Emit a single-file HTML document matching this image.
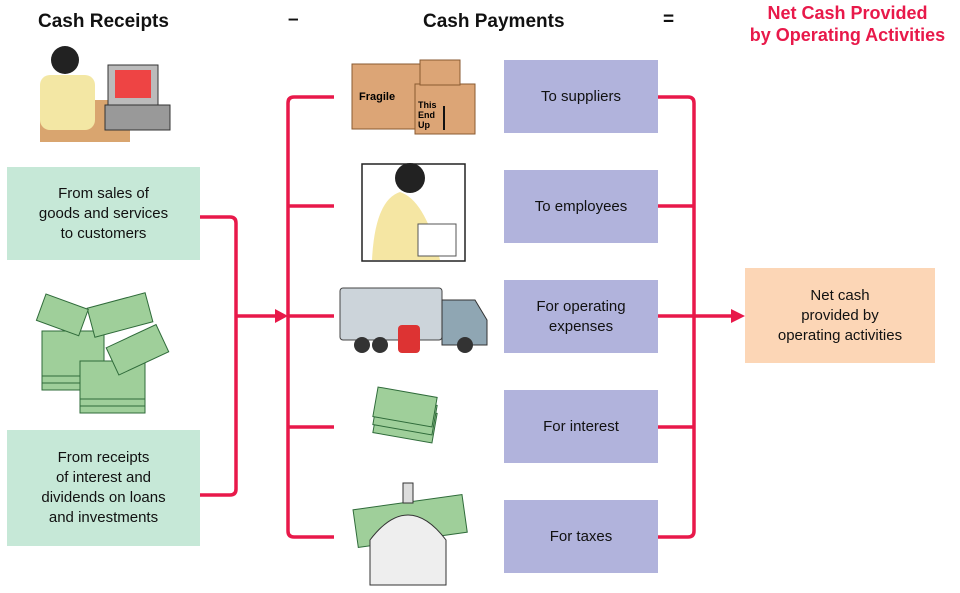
<!DOCTYPE html>
<html><head><style>
body{margin:0;width:960px;height:593px;background:#fff;position:relative;font-family:"Liberation Sans",sans-serif;overflow:hidden}
.b{position:absolute;display:flex;align-items:center;justify-content:center;text-align:center;font-size:15px;line-height:20px;color:#111}
.p{background:#b1b3dc;left:504px;width:154px;height:73px}
.g{background:#c6e8d7;left:7px;width:193px}
.h{position:absolute;font-weight:bold;font-size:19px;color:#111}
</style></head><body>
<div class="h" style="left:38px;top:11px">Cash Receipts</div>
<div class="h" style="left:288px;top:9px">–</div>
<div class="h" style="left:423px;top:11px">Cash Payments</div>
<div class="h" style="left:663px;top:9px">=</div>
<div class="h" style="left:740px;top:2px;width:215px;text-align:center;color:#e8194a;line-height:22px;font-size:18px">Net Cash Provided<br>by Operating Activities</div>

<svg width="960" height="593" style="position:absolute;left:0;top:0">
<g fill="none" stroke="#e8194a" stroke-width="3.5">
<path d="M200 217 H230 Q236 217 236 223 V489 Q236 495 230 495 H200"/>
<path d="M236 316 H276"/>
<path d="M334 97 H294 Q288 97 288 103 V531 Q288 537 294 537 H334"/>
<path d="M288 206 H334 M288 316 H334 M288 427 H334"/>
<path d="M658 97 H688 Q694 97 694 103 V531 Q694 537 688 537 H658"/>
<path d="M658 206 H694 M658 427 H694 M658 316 H732"/>
</g>
<path d="M275 309 L288 316 L275 323Z M731 309 L745 316 L731 323Z" fill="#e8194a"/>
<!-- cashier -->
<rect x="40" y="100" width="90" height="42" fill="#d9a56f"/>
<rect x="40" y="75" width="55" height="55" rx="10" fill="#f3e7a4"/>
<circle cx="65" cy="60" r="14" fill="#222"/>
<rect x="108" y="65" width="50" height="40" fill="#bbb" stroke="#333"/>
<rect x="115" y="70" width="36" height="28" fill="#e44"/>
<rect x="105" y="105" width="65" height="25" fill="#999" stroke="#333"/>
<!-- boxes -->
<rect x="352" y="64" width="70" height="65" fill="#dca576" stroke="#8a5a30"/>
<rect x="415" y="84" width="60" height="50" fill="#dca576" stroke="#8a5a30"/>
<rect x="420" y="60" width="40" height="25" fill="#dca576" stroke="#8a5a30"/>
<text x="359" y="100" font-size="11" font-weight="bold" font-family="Liberation Sans">Fragile</text>
<text x="418" y="108" font-size="9" font-weight="bold" font-family="Liberation Sans">This</text>
<text x="418" y="118" font-size="9" font-weight="bold" font-family="Liberation Sans">End</text>
<text x="418" y="128" font-size="9" font-weight="bold" font-family="Liberation Sans">Up</text>
<path d="M444 130 V106" stroke="#111" stroke-width="2"/>
<!-- employee -->
<rect x="362" y="164" width="103" height="97" fill="#fff" stroke="#222" stroke-width="1.5"/>
<path d="M372 260 Q375 200 400 192 Q425 200 440 260Z" fill="#f5e6a3"/>
<circle cx="410" cy="178" r="15" fill="#222"/>
<rect x="418" y="224" width="38" height="32" fill="#fff" stroke="#555"/>
<!-- truck -->
<rect x="340" y="288" width="102" height="52" rx="3" fill="#ccd4da" stroke="#444"/>
<path d="M442 300 H475 L487 320 V345 H442Z" fill="#8fa6b3" stroke="#333"/>
<circle cx="362" cy="345" r="8" fill="#333"/><circle cx="380" cy="345" r="8" fill="#333"/><circle cx="465" cy="345" r="8" fill="#333"/>
<rect x="398" y="325" width="22" height="28" rx="4" fill="#d33"/>
<!-- money -->
<g fill="#9fcf9a" stroke="#2f6b3a">
<rect x="42" y="345" width="62" height="45"/><rect x="42" y="338" width="62" height="45"/><rect x="42" y="331" width="62" height="45"/>
<rect x="80" y="375" width="65" height="38"/><rect x="80" y="368" width="65" height="38"/><rect x="80" y="361" width="65" height="38"/>
<rect x="110" y="335" width="55" height="30" transform="rotate(-25 137 350)"/>
<rect x="90" y="300" width="60" height="30" transform="rotate(-15 120 315)"/>
<rect x="40" y="300" width="45" height="28" transform="rotate(20 60 314)"/>
<rect x="375" y="408" width="60" height="30" transform="rotate(10 405 423)"/>
<rect x="375" y="400" width="60" height="30" transform="rotate(10 405 415)"/>
<rect x="375" y="392" width="60" height="30" transform="rotate(10 405 407)"/>
<rect x="355" y="502" width="110" height="38" transform="rotate(-8 410 520)"/>
</g>
<path d="M370 585 V540 Q408 490 446 540 V585Z" fill="#eee" stroke="#333"/>
<rect x="403" y="483" width="10" height="20" fill="#ddd" stroke="#333"/>
</svg>

<div class="b p" style="top:60px">To suppliers</div>
<div class="b p" style="top:170px">To employees</div>
<div class="b p" style="top:280px">For operating<br>expenses</div>
<div class="b p" style="top:390px">For interest</div>
<div class="b p" style="top:500px">For taxes</div>
<div class="b g" style="top:167px;height:93px">From sales of<br>goods and services<br>to customers</div>
<div class="b g" style="top:430px;height:116px">From receipts<br>of interest and<br>dividends on loans<br>and investments</div>
<div class="b" style="left:745px;top:268px;width:190px;height:95px;background:#fcd6b6">Net cash<br>provided by<br>operating activities</div>
</body></html>
